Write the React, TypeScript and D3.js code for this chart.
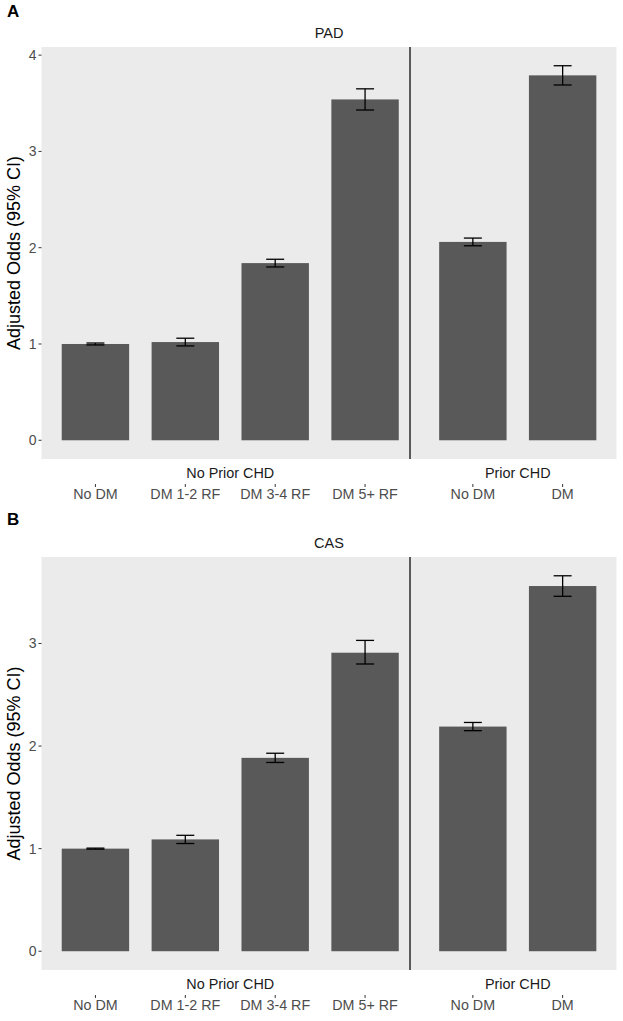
import React from "react";
import * as d3 from "d3";

const categories = ["No DM", "DM 1-2 RF", "DM 3-4 RF", "DM 5+ RF", "No DM", "DM"];
const groups = ["No Prior CHD", "No Prior CHD", "No Prior CHD", "No Prior CHD", "Prior CHD", "Prior CHD"];
const groupNames = ["No Prior CHD", "Prior CHD"];

const padOdds = [1.0, 1.02, 1.84, 3.54, 2.06, 3.79];
const padLower = [0.99, 0.98, 1.8, 3.43, 2.02, 3.69];
const padUpper = [1.01, 1.06, 1.88, 3.65, 2.1, 3.89];

const casOdds = [1.0, 1.09, 1.885, 2.91, 2.19, 3.56];
const casLower = [0.995, 1.05, 1.84, 2.8, 2.15, 3.46];
const casUpper = [1.005, 1.13, 1.93, 3.03, 2.23, 3.66];

const padTicks = [0, 1, 2, 3, 4];
const casTicks = [0, 1, 2, 3];

const FONT = "'Liberation Sans', Arial, Helvetica, sans-serif";

type PanelProps = {
  letter: string;
  letterY: number;
  title: string;
  top: number;
  bottom: number;
  odds: number[];
  lower: number[];
  upper: number[];
  ticks: number[];
};

function Panel({ letter, letterY, title, top, bottom, odds, lower, upper, ticks }: PanelProps) {
  const left = 41.5;
  const split = 419;
  const right = 616.5;
  const maxU = d3.max(upper) as number;
  const y = d3.scaleLinear().domain([-0.05 * maxU, 1.05 * maxU]).range([bottom, top]);

  const idx0 = categories.map((_, i) => i).filter((i) => groups[i] === groupNames[0]);
  const idx1 = categories.map((_, i) => i).filter((i) => groups[i] === groupNames[1]);
  const x0 = d3.scalePoint<number>().domain(idx0).range([left, split]).padding(0.6);
  const x1 = d3.scalePoint<number>().domain(idx1).range([split, right]).padding(0.6);
  const xPos = (i: number) => (groups[i] === groupNames[0] ? x0(i)! : x1(i)!);
  const step = x0.step();
  const barW = step * 0.75;
  const capW = step * 0.2;
  const vlineX = (x0(idx0[idx0.length - 1]) as number) + step / 2;
  const stripY = bottom + 19;
  const tickLabelY = bottom + 40;

  return (
    <g>
      <text x={7} y={letterY} fontSize={17} fontWeight="bold" fill="#000" fontFamily={FONT}>
        {letter}
      </text>
      <text x={(left + right) / 2} y={top - 9} fontSize={14.5} textAnchor="middle" fill="#1a1a1a" fontFamily={FONT}>
        {title}
      </text>
      <rect x={left} y={top} width={right - left} height={bottom - top} fill="#ebebeb" />
      {categories.map((c, i) => (
        <rect
          key={"b" + i}
          x={xPos(i) - barW / 2}
          y={y(odds[i])}
          width={barW}
          height={y(0) - y(odds[i])}
          fill="#595959"
        />
      ))}
      {categories.map((c, i) => (
        <g key={"e" + i} stroke="#000" strokeWidth={1.3} fill="none">
          <line x1={xPos(i)} x2={xPos(i)} y1={y(lower[i])} y2={y(upper[i])} />
          <line x1={xPos(i) - capW / 2} x2={xPos(i) + capW / 2} y1={y(upper[i])} y2={y(upper[i])} />
          <line x1={xPos(i) - capW / 2} x2={xPos(i) + capW / 2} y1={y(lower[i])} y2={y(lower[i])} />
        </g>
      ))}
      <line x1={vlineX} x2={vlineX} y1={top} y2={bottom} stroke="#2b2b2b" strokeWidth={1.5} />
      {ticks.map((t) => (
        <g key={"t" + t}>
          <line x1={left - 3} x2={left} y1={y(t)} y2={y(t)} stroke="#333" strokeWidth={1} />
          <text
            x={left - 5}
            y={y(t)}
            dy="0.35em"
            fontSize={14}
            textAnchor="end"
            fill="#4d4d4d"
            fontFamily={FONT}
          >
            {t}
          </text>
        </g>
      ))}
      <text
        transform={`translate(20,${(top + bottom) / 2}) rotate(-90)`}
        fontSize={18}
        textAnchor="middle"
        fill="#000"
        fontFamily={FONT}
      >
        Adjusted Odds (95% CI)
      </text>
      {groupNames.map((g, k) => (
        <text
          key={"s" + g}
          x={k === 0 ? (left + split) / 2 : (split + right) / 2}
          y={stripY}
          fontSize={14.4}
          textAnchor="middle"
          fill="#1a1a1a"
          fontFamily={FONT}
        >
          {g}
        </text>
      ))}
      {categories.map((c, i) => (
        <g key={"x" + i}>
          <line x1={xPos(i)} x2={xPos(i)} y1={tickLabelY - 15} y2={tickLabelY - 12} stroke="#333" strokeWidth={1} />
          <text x={xPos(i)} y={tickLabelY} fontSize={14.3} textAnchor="middle" fill="#4d4d4d" fontFamily={FONT}>
            {c}
          </text>
        </g>
      ))}
    </g>
  );
}

export default function App() {
  return (
    <svg
      width={623}
      height={1021}
      style={{ position: "absolute", left: 0, top: 0, background: "#fff" }}
    >
      <rect x={0} y={0} width={623} height={1021} fill="#fff" />
      <Panel
        letter="A"
        letterY={17}
        title="PAD"
        top={47}
        bottom={459}
        odds={padOdds}
        lower={padLower}
        upper={padUpper}
        ticks={padTicks}
      />
      <Panel
        letter="B"
        letterY={525}
        title="CAS"
        top={557}
        bottom={970}
        odds={casOdds}
        lower={casLower}
        upper={casUpper}
        ticks={casTicks}
      />
    </svg>
  );
}
